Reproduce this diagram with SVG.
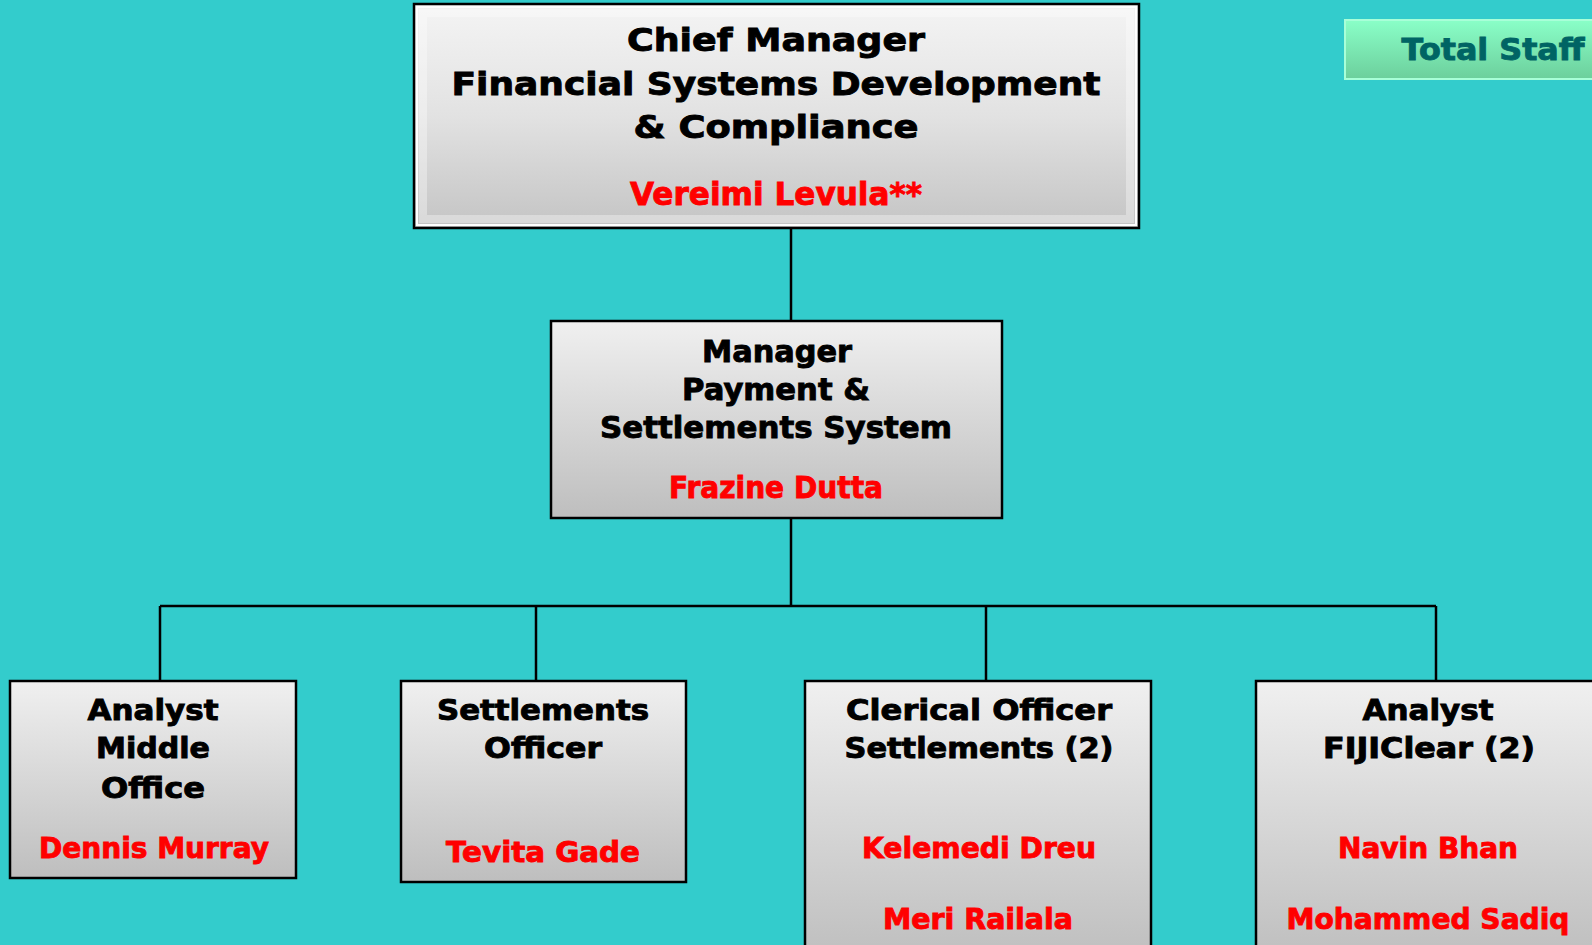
<svg xmlns="http://www.w3.org/2000/svg" width="1592" height="945" viewBox="0 0 1592 945">
<defs>
<linearGradient id="g" x1="0" y1="0" x2="0" y2="1">
<stop offset="0" stop-color="#f0f0f0"/>
<stop offset="1" stop-color="#bebebe"/>
</linearGradient>
<linearGradient id="gt" x1="0" y1="0" x2="0" y2="1">
<stop offset="0" stop-color="#f4f4f4"/>
<stop offset="0.5" stop-color="#e2e2e2"/>
<stop offset="1" stop-color="#c4c4c4"/>
</linearGradient>
<linearGradient id="gs" x1="0" y1="0" x2="0" y2="1">
<stop offset="0" stop-color="#8affc8"/>
<stop offset="1" stop-color="#6ccf9c"/>
</linearGradient>
<style>
.box{fill:url(#g);stroke:#000;stroke-width:2.5}
.t{font-family:"DejaVu Sans","Liberation Sans",sans-serif;font-weight:bold;fill:#000;stroke:#000;stroke-width:0.9;text-anchor:middle}
.n{font-family:"DejaVu Sans","Liberation Sans",sans-serif;font-weight:bold;fill:#ff0000;stroke:#ff0000;stroke-width:0.9;text-anchor:middle}
.s{font-family:"DejaVu Sans","Liberation Sans",sans-serif;font-weight:bold;fill:#006464;stroke:#006464;stroke-width:0.9;text-anchor:middle}
.c{fill:none;stroke:#000;stroke-width:2.5}
</style>
</defs>
<rect width="1592" height="945" fill="#33cccc"/>
<g id="connectors">
<path class="c" d="M791 228 V321"/>
<path class="c" d="M791 518 V606"/>
<path class="c" d="M160 606 H1436"/>
<path class="c" d="M160 606 V681 M536 606 V681 M986 606 V681 M1436 606 V681"/>
</g>
<g id="total-staff">
<rect x="1345" y="20" width="260" height="59" fill="url(#gs)" stroke="#a8ffd8" stroke-width="2"/>
<text class="s" x="1493" y="60" font-size="31" textLength="183" lengthAdjust="spacingAndGlyphs">Total Staff</text>
</g>
<g id="chief-manager">
<rect x="414" y="4" width="725" height="224" fill="url(#gt)" stroke="#000" stroke-width="2.5"/>
<rect x="417" y="7" width="719" height="218" fill="none" stroke="#ffffff" stroke-width="2"/>
<rect x="423" y="13" width="707" height="206" fill="none" stroke="#ffffff" stroke-opacity="0.35" stroke-width="8"/>
<text class="t" x="776" y="51" font-size="32" textLength="298" lengthAdjust="spacingAndGlyphs">Chief Manager</text>
<text class="t" x="776" y="95" font-size="32" textLength="649" lengthAdjust="spacingAndGlyphs">Financial Systems Development</text>
<text class="t" x="776" y="138" font-size="32" textLength="285" lengthAdjust="spacingAndGlyphs">&amp; Compliance</text>
<text class="n" x="776" y="205" font-size="32" textLength="292" lengthAdjust="spacingAndGlyphs">Vereimi Levula**</text>
</g>
<g id="manager">
<rect class="box" x="551" y="321" width="451" height="197"/>
<text class="t" x="777" y="362" font-size="30" textLength="150" lengthAdjust="spacingAndGlyphs">Manager</text>
<text class="t" x="776" y="400" font-size="30" textLength="188" lengthAdjust="spacingAndGlyphs">Payment &amp;</text>
<text class="t" x="776" y="438" font-size="30" textLength="352" lengthAdjust="spacingAndGlyphs">Settlements System</text>
<text class="n" x="776" y="498" font-size="30" textLength="214" lengthAdjust="spacingAndGlyphs">Frazine Dutta</text>
</g>
<g id="analyst-middle-office">
<rect class="box" x="10" y="681" width="286" height="197"/>
<text class="t" x="153" y="720" font-size="28" textLength="131" lengthAdjust="spacingAndGlyphs">Analyst</text>
<text class="t" x="153" y="758" font-size="28" textLength="114" lengthAdjust="spacingAndGlyphs">Middle</text>
<text class="t" x="153" y="798" font-size="28" textLength="104" lengthAdjust="spacingAndGlyphs">Office</text>
<text class="n" x="154" y="858" font-size="28" textLength="230" lengthAdjust="spacingAndGlyphs">Dennis Murray</text>
</g>
<g id="settlements-officer">
<rect class="box" x="401" y="681" width="285" height="201"/>
<text class="t" x="543" y="720" font-size="28" textLength="212" lengthAdjust="spacingAndGlyphs">Settlements</text>
<text class="t" x="543" y="758" font-size="28" textLength="118" lengthAdjust="spacingAndGlyphs">Officer</text>
<text class="n" x="543" y="862" font-size="28" textLength="194" lengthAdjust="spacingAndGlyphs">Tevita Gade</text>
</g>
<g id="clerical-officer">
<rect class="box" x="805" y="681" width="346" height="280"/>
<text class="t" x="979" y="720" font-size="28" textLength="266" lengthAdjust="spacingAndGlyphs">Clerical Officer</text>
<text class="t" x="979" y="758" font-size="28" textLength="269" lengthAdjust="spacingAndGlyphs">Settlements (2)</text>
<text class="n" x="979" y="858" font-size="28" textLength="234" lengthAdjust="spacingAndGlyphs">Kelemedi Dreu</text>
<text class="n" x="978" y="929" font-size="28" textLength="190" lengthAdjust="spacingAndGlyphs">Meri Railala</text>
</g>
<g id="analyst-fijiclear">
<rect class="box" x="1256" y="681" width="350" height="280"/>
<text class="t" x="1428" y="720" font-size="28" textLength="131" lengthAdjust="spacingAndGlyphs">Analyst</text>
<text class="t" x="1429" y="758" font-size="28" textLength="212" lengthAdjust="spacingAndGlyphs">FIJIClear (2)</text>
<text class="n" x="1428" y="858" font-size="28" textLength="180" lengthAdjust="spacingAndGlyphs">Navin Bhan</text>
<text class="n" x="1428" y="929" font-size="28" textLength="283" lengthAdjust="spacingAndGlyphs">Mohammed Sadiq</text>
</g>
</svg>
